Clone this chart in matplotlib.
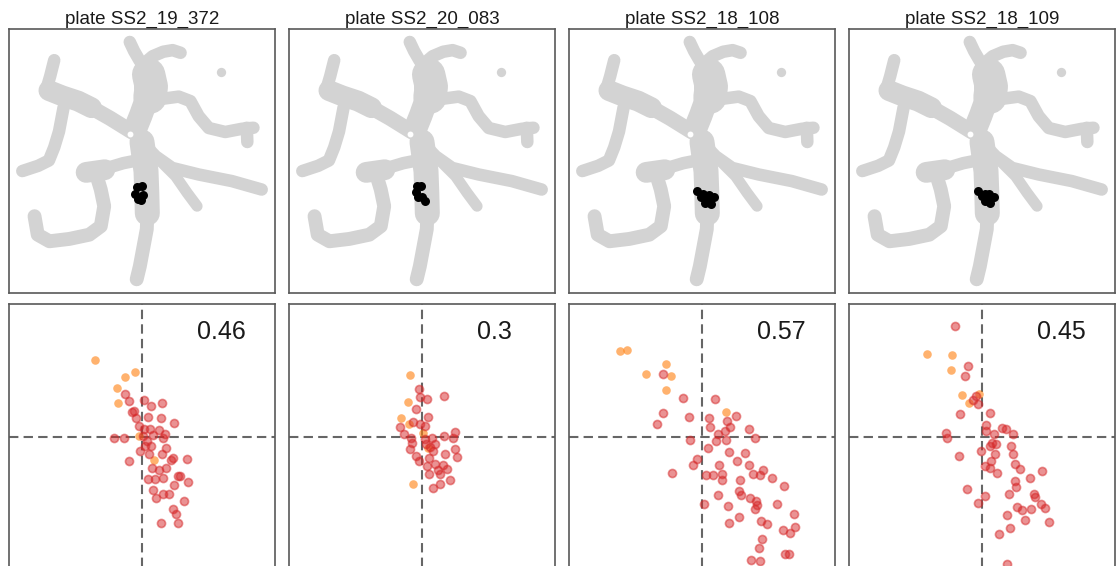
import matplotlib
matplotlib.use("Agg")
import matplotlib.pyplot as plt

plt.rcParams['font.family'] = ['Liberation Sans', 'DejaVu Sans']

plates = ["plate SS2_19_372", "plate SS2_20_083", "plate SS2_18_108", "plate SS2_18_109"]
scores = ["0.46", "0.3", "0.57", "0.45"]

# gray outline of the structure (branch centre lines, 0-100 frame)
branch_x = [
    [45.4, 47.0, 49.0, 51.5],
    [50.5, 54.0, 58.0, 61.5, 64.5],
    [52.5, 53.5, 53.0],
    [52.0, 49.5, 47.5],
    [56.4, 63.8, 68.2, 71.3, 75.1, 81.3, 87.5, 91.9],
    [89.4, 89.6],
    [17.0, 15.5, 14.2],
    [15.0, 20.0, 26.0, 31.0],
    [31.0, 38.0, 46.0],
    [20.5, 18.8, 17.0, 15.0, 11.0, 5.0],
    [46.0, 50.0, 55.1, 61.3, 71.3, 83.8, 95.0],
    [57.6, 62.6, 67.0, 70.7],
    [50.0, 51.5, 51.8, 52.0],
    [52.0, 51.8, 50.5, 49.2, 48.0],
    [48.0, 43.0, 38.0],
    [29.0, 36.0],
    [33.0, 34.5, 35.8, 34.5, 30.2, 22.7, 15.2, 10.8, 9.6],
]
branch_y = [
    [94.9, 91.5, 88.0, 84.5],
    [86.5, 89.5, 91.2, 91.8, 90.8],
    [82.5, 78.0, 74.0],
    [74.0, 67.0, 62.0],
    [73.2, 74.2, 72.5, 66.8, 62.3, 60.8, 62.0, 62.4],
    [62.4, 57.0],
    [88.0, 82.0, 77.5],
    [76.5, 74.5, 72.5, 70.0],
    [70.0, 66.0, 61.0],
    [70.0, 61.0, 55.0, 50.0, 48.0, 46.0],
    [61.0, 57.0, 51.6, 47.2, 44.7, 42.2, 39.0],
    [49.1, 44.1, 37.7, 32.7],
    [57.0, 46.0, 38.0, 30.0],
    [30.0, 24.0, 17.0, 10.0, 5.0],
    [50.0, 49.0, 47.5],
    [45.5, 46.5],
    [44.0, 39.0, 32.7, 25.1, 21.9, 20.3, 19.4, 21.9, 28.9],
]
branch_lw = [9, 9, 24, 17, 9, 9, 9, 15, 11, 9, 9, 8, 18, 10, 9, 15, 10]
dot_x = [79.8]
dot_y = [83.5]

# highlighted cells (black) per plate
black_x = [
    [48.0, 47.5, 48.5, 50.0, 50.5, 49.5],
    [48.0, 49.5, 47.8, 48.5, 50.0, 51.0],
    [48.0, 49.5, 50.5, 52.5, 54.5, 51.0, 52.0, 53.5],
    [48.5, 50.0, 51.0, 52.5, 54.5, 51.0, 52.0, 53.0],
]
black_y = [
    [40.0, 37.5, 35.5, 40.5, 37.0, 35.0],
    [40.5, 40.5, 38.0, 36.0, 36.0, 34.5],
    [38.5, 36.0, 37.5, 37.0, 36.0, 34.0, 35.0, 33.5],
    [38.5, 36.5, 37.5, 37.5, 36.0, 34.5, 35.5, 34.0],
]

# scatter points: orange and red groups per plate
orange_x = [
    [-0.47, -0.17, -0.07, -0.25, -0.24, -0.03, 0.12],
    [-0.12, -0.14, -0.21, -0.13, 0.01, 0.06, -0.09],
    [-0.82, -0.75, -0.56, -0.36, -0.31, -0.36, 0.24],
    [-0.55, -0.30, -0.31, -0.20, -0.13, -0.03],
]
orange_y = [
    [0.77, 0.60, 0.65, 0.49, 0.34, 0.01, -0.23],
    [0.62, 0.35, 0.19, 0.13, 0.04, -0.11, -0.47],
    [0.86, 0.87, 0.63, 0.73, 0.61, 0.47, 0.25],
    [0.83, 0.82, 0.67, 0.42, 0.34, 0.43],
]
red_x = [
    [-0.17, -0.13, 0.02, 0.09, 0.20, -0.08, -0.06, 0.06, 0.19, 0.32, -0.03, 0.02, 0.08, 0.17,
     0.23, -0.28, -0.18, 0.01, 0.05, 0.09, 0.03, 0.11, 0.21, 0.24, 0.20, -0.13, 0.29, 0.31,
     0.45, 0.10, 0.17, 0.24, 0.36, 0.38, 0.46, 0.06, 0.13, 0.21, 0.32, 0.11, 0.14, 0.21,
     0.27, 0.42, 0.31, 0.34, 0.36, 0.19, -0.10, -0.02, 0.07],
    [-0.03, -0.02, 0.05, 0.22, -0.06, 0.06, -0.09, -0.02, 0.03, -0.22, -0.18, -0.11, -0.10,
     0.03, 0.10, 0.22, 0.33, 0.31, -0.12, -0.06, -0.03, 0.07, 0.11, 0.23, 0.33, 0.35, 0.05,
     0.13, 0.21, 0.07, 0.16, 0.25, 0.18, 0.11, 0.28, 0.04, 0.13, 0.08, 0.18],
    [-0.39, -0.19, 0.13, -0.39, -0.45, -0.13, 0.07, 0.08, 0.34, 0.25, 0.28, 0.23, 0.16, 0.47,
     0.53, -0.12, 0.14, 0.24, 0.06, 0.27, 0.43, -0.05, -0.09, -0.30, 0.17, 0.35, 0.47, 0.04,
     0.11, 0.20, 0.20, 0.51, 0.61, 0.58, 0.70, 0.38, 0.37, 0.39, 0.16, 0.02, 0.26, 0.48, 0.54,
     0.55, 0.53, 0.75, 0.82, 0.37, 0.27, 0.59, 0.65, 0.92, 0.93, 0.81, 0.88, 0.60, 0.57, 0.83,
     0.87, 0.49, 0.58],
    [-0.27, -0.14, -0.17, -0.09, -0.04, -0.06, -0.22, 0.08, -0.36, -0.35, 0.04, 0.04, 0.20,
     0.24, 0.31, 0.12, 0.10, 0.14, 0.08, 0.29, 0.31, -0.01, 0.13, -0.23, 0.09, 0.03, 0.08,
     0.15, 0.33, 0.38, 0.48, 0.60, 0.33, 0.34, -0.15, 0.27, 0.52, 0.53, 0.03, -0.04, 0.35,
     0.40, 0.49, 0.59, 0.63, 0.25, 0.43, 0.67, 0.28, 0.17, 0.25],
]
red_y = [
    [0.43, 0.36, 0.37, 0.31, 0.34, 0.26, 0.19, 0.20, 0.19, 0.14, 0.11, 0.08, 0.08, 0.07,
     0.03, -0.01, -0.01, 0.01, -0.04, -0.09, -0.09, 0.02, -0.01, -0.11, -0.17, -0.24, -0.23,
     -0.21, -0.22, -0.31, -0.33, -0.31, -0.39, -0.39, -0.45, -0.42, -0.42, -0.41, -0.48,
     -0.53, -0.61, -0.57, -0.57, -0.64, -0.72, -0.77, -0.86, -0.86, 0.25, -0.14, -0.17],
    [0.48, 0.40, 0.38, 0.41, 0.28, 0.20, 0.15, 0.13, 0.11, 0.10, 0.03, -0.01, -0.06, -0.02,
     -0.01, 0.01, 0.05, -0.01, -0.12, -0.19, -0.24, -0.21, -0.14, -0.17, -0.12, -0.20, -0.29,
     -0.27, -0.28, -0.37, -0.33, -0.32, -0.47, -0.51, -0.43, -0.07, -0.07, -0.10, -0.37],
    [0.63, 0.39, 0.38, 0.24, 0.13, 0.20, 0.19, 0.10, 0.21, 0.16, 0.10, 0.06, 0.03, 0.08,
     -0.01, -0.03, -0.04, -0.03, -0.11, -0.15, -0.16, -0.22, -0.28, -0.36, -0.28, -0.24,
     -0.28, -0.38, -0.38, -0.37, -0.43, -0.37, -0.33, -0.38, -0.41, -0.43, -0.54, -0.58,
     -0.58, -0.67, -0.69, -0.61, -0.64, -0.68, -0.72, -0.67, -0.49, -0.80, -0.86, -0.84,
     -0.87, -0.77, -0.90, -0.93, -0.96, -1.02, -1.11, -1.17, -1.17, -1.23, -1.24],
    [1.11, 0.71, 0.61, 0.37, 0.33, 0.41, 0.23, 0.24, 0.04, -0.01, 0.12, 0.06, 0.09, 0.08,
     0.03, 0.03, -0.06, -0.07, -0.09, -0.09, -0.17, -0.14, -0.17, -0.19, -0.24, -0.29, -0.31,
     -0.36, -0.27, -0.32, -0.41, -0.34, -0.44, -0.50, -0.52, -0.57, -0.57, -0.60, -0.59,
     -0.66, -0.70, -0.73, -0.72, -0.67, -0.71, -0.78, -0.83, -0.85, -0.91, -0.97, -1.27],
]

W, H = 1117, 566
fig = plt.figure(figsize=(W / 100, H / 100), dpi=100)
lefts = [9, 289, 569, 849]
size = 266


def frame(ax):
    ax.set_xticks([])
    ax.set_yticks([])
    for sp in ax.spines.values():
        sp.set_color('0.35')
        sp.set_linewidth(1.2)


for i in range(4):
    # top row: outline with highlighted cells
    ax = fig.add_axes([lefts[i] / W, (H - 292.5) / H, size / W, 264 / H])
    for bx, by, lw in zip(branch_x, branch_y, branch_lw):
        ax.plot(bx, by, color='lightgray', lw=lw, solid_capstyle='round',
                solid_joinstyle='round', zorder=1)
    ax.scatter(dot_x, dot_y, s=45, color='lightgray', linewidths=0, zorder=1)
    ax.scatter([45.5], [60.0], s=18, color='white', linewidths=0, zorder=2)
    ax.scatter(black_x[i], black_y[i], s=42, color='black', linewidths=0, zorder=3)
    ax.set_xlim(0, 100)
    ax.set_ylim(0, 100)
    frame(ax)
    ax.set_title(plates[i], fontsize=13.5, pad=3, color='0.1')

    # bottom row: scatter with crosshair
    ax2 = fig.add_axes([lefts[i] / W, (H - 570) / H, size / W, size / H])
    ax2.axvline(0, color='0.4', lw=1.5, ls=(0, (4.5, 2.5)), zorder=1)
    ax2.axhline(0, color='0.4', lw=1.5, ls=(0, (4.5, 2.5)), zorder=1)
    ax2.scatter(orange_x[i], orange_y[i], s=38, color='#ff7f0e', alpha=0.6,
                linewidths=0, zorder=2)
    ax2.scatter(red_x[i], red_y[i], s=34, color='#d62728', alpha=0.5,
                linewidths=1.2, zorder=3)
    ax2.text(0.707, 0.868, scores[i], transform=ax2.transAxes, fontsize=18,
             ha='left', va='baseline', color='0.1')
    ax2.set_xlim(-1.33, 1.33)
    ax2.set_ylim(-1.33, 1.33)
    frame(ax2)

fig.savefig("out.png", dpi=100)
